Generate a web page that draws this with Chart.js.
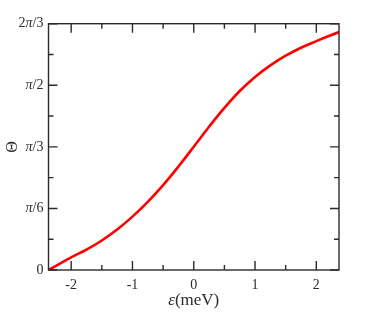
<!DOCTYPE html>
<html>
<head>
<meta charset="utf-8">
<script src="https://cdn.jsdelivr.net/npm/chart.js"></script>
<style>
  html, body { margin: 0; padding: 0; background: #fff; }
</style>
</head>
<body>
<canvas id="chart" width="374" height="312"></canvas>
<script>
const PI = Math.PI

// values (Theta in radians)
const epsilon = [-2.37, -2, -1.75, -1.5, -1.25, -1, -0.75, -0.5, -0.25, 0,
  0.25, 0.5, 0.75, 1, 1.25, 1.5, 1.75, 2, 2.37]
const theta = [0, 0.108, 0.173, 0.251, 0.344, 0.454, 0.580, 0.722, 0.880, 1.048,
  1.218, 1.378, 1.522, 1.642, 1.740, 1.822, 1.890, 1.946, 2.024]

const xTickValues = [-2, -1, 0, 1, 2]
const xTickLabels = ["-2", "-1", "0", "1", "2"]
const xMinorValues = [-1.5, -0.5, 0.5, 1.5]
const yTickValues = [0, PI / 6, PI / 3, PI / 2, 2 * PI / 3]
const yTickLabels = ["0", "π/6", "π/3", "π/2", "2π/3"]
const yMinorValues = [PI / 12, PI / 4, 5 * PI / 12, 7 * PI / 12]

const INK = "#2b2b2b"

// draws text where greek letters are italic
function drawMath(ctx, text, x, y, align, size) {
  const parts = text.split(/(π|ε)/).filter(s => s)
  const fontFor = s => (s === "π" || s === "ε" ? "italic " : "") + size + 'px "Liberation Serif"'
  let w = 0
  parts.forEach(p => { ctx.font = fontFor(p); w += ctx.measureText(p).width })
  let cx = align === "right" ? x - w : align === "center" ? x - w / 2 : x
  ctx.textAlign = "left"
  ctx.textBaseline = "middle"
  parts.forEach(p => {
    ctx.font = fontFor(p)
    ctx.fillText(p, cx, y)
    cx += ctx.measureText(p).width
  })
}

const axesFrame = {
  id: "axesFrame",
  afterDatasetsDraw(chart) {
    const { ctx, chartArea: a, scales: { x, y } } = chart
    ctx.save()
    ctx.strokeStyle = INK
    ctx.lineWidth = 1.4
    ctx.strokeRect(a.left, a.top, a.right - a.left, a.bottom - a.top)

    ctx.beginPath()
    const xTick = (v, len) => {
      const px = x.getPixelForValue(v)
      ctx.moveTo(px, a.bottom); ctx.lineTo(px, a.bottom - len)
      ctx.moveTo(px, a.top); ctx.lineTo(px, a.top + len)
    }
    const yTick = (v, len) => {
      const py = y.getPixelForValue(v)
      ctx.moveTo(a.left, py); ctx.lineTo(a.left + len, py)
      ctx.moveTo(a.right, py); ctx.lineTo(a.right - len, py)
    }
    xTickValues.forEach(v => xTick(v, 9))
    xMinorValues.forEach(v => xTick(v, 5))
    yTickValues.forEach(v => yTick(v, 9))
    yMinorValues.forEach(v => yTick(v, 5))
    ctx.stroke()

    ctx.fillStyle = INK
    xTickValues.forEach((v, i) => {
      drawMath(ctx, xTickLabels[i], x.getPixelForValue(v), a.bottom + 15, "center", 14)
    })
    yTickValues.forEach((v, i) => {
      drawMath(ctx, yTickLabels[i], a.left - 5, y.getPixelForValue(v), "right", 14)
    })

    // axis titles
    drawMath(ctx, "ε(meV)", (a.left + a.right) / 2, 301, "center", 17)
    ctx.save()
    ctx.translate(12.5, 147)
    ctx.rotate(-PI / 2)
    drawMath(ctx, "Θ", 0, 0, "center", 16)
    ctx.restore()

    ctx.restore()
  }
}

new Chart(document.getElementById("chart").getContext("2d"), {
  type: "line",
  data: {
    datasets: [
      {
        data: epsilon.map((e, i) => ({ x: e, y: theta[i] })),
        borderColor: "#ff0000",
        borderWidth: 2.6,
        pointRadius: 0,
        tension: 0.4,
        fill: false,
      },
    ],
  },
  options: {
    responsive: false,
    animation: false,
    devicePixelRatio: 1,
    layout: { padding: { left: 48.5, right: 35, top: 23.7, bottom: 42 } },
    plugins: { legend: { display: false }, tooltip: { enabled: false } },
    scales: {
      x: { type: "linear", min: -2.37, max: 2.37, display: false },
      y: { type: "linear", min: 0, max: 2 * PI / 3, display: false },
    },
  },
  plugins: [axesFrame],
})
</script>
</body>
</html>
